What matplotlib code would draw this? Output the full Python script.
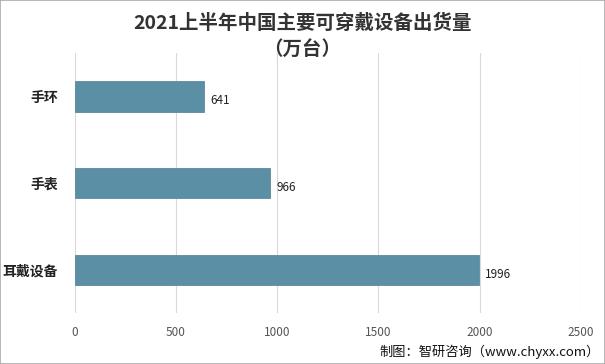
import matplotlib
matplotlib.use("Agg")
import matplotlib.pyplot as plt
from matplotlib.patches import Rectangle

plt.rcParams['font.family'] = ['Noto Sans CJK SC', 'DejaVu Sans']

categories = ['手环', '手表', '耳戴设备']
values = [641, 966, 1996]
xticks = [0, 500, 1000, 1500, 2000, 2500]

fig = plt.figure(figsize=(6.05, 3.64), dpi=100)
ax = fig.add_axes([74.5 / 605, 1 - 313 / 364, (581 - 74.5) / 605, (313 - 53) / 364])

ypos = list(range(len(categories)))
ax.barh(ypos, values, height=0.35, color='#5B8FA6', edgecolor='#4d7d92', linewidth=0.5, zorder=3)
for y, v in zip(ypos, values):
    ax.text(v + 30, y + 0.05, str(v), va='center', ha='left', fontsize=8.5, color='#222222')

ax.set_xlim(0, 2500)
ax.set_ylim(2.5, -0.5)
ax.set_xticks(xticks)
ax.set_xticklabels([str(t) for t in xticks], fontsize=8.5, color='#555555')
ax.set_yticks(ypos)
ax.set_yticklabels(categories, fontsize=10, fontweight='bold', color='#222222')
ax.tick_params(length=0, pad=9)
ax.tick_params(axis='y', pad=12)
ax.grid(axis='x', color='#d9d9d9', linewidth=0.8, zorder=0)
for s in ax.spines.values():
    s.set_visible(False)

fig.text(0.5, 1 - 23 / 364, '2021上半年中国主要可穿戴设备出货量', ha='center', va='center',
         fontsize=14, fontweight='bold', color='#333333')
fig.text(0.5, 1 - 49 / 364, '（万台）', ha='center', va='center',
         fontsize=14, fontweight='bold', color='#333333')
fig.text(1 - 5 / 605, 1 - 352 / 364, '制图：智研咨询（www.chyxx.com）', ha='right', va='center',
         fontsize=9.5, color='#111111')

fig.patches.append(Rectangle((0, 0), 1, 1, transform=fig.transFigure, fill=False,
                             edgecolor='#aaaaaa', linewidth=1.2))

fig.savefig('out.png', dpi=100)
